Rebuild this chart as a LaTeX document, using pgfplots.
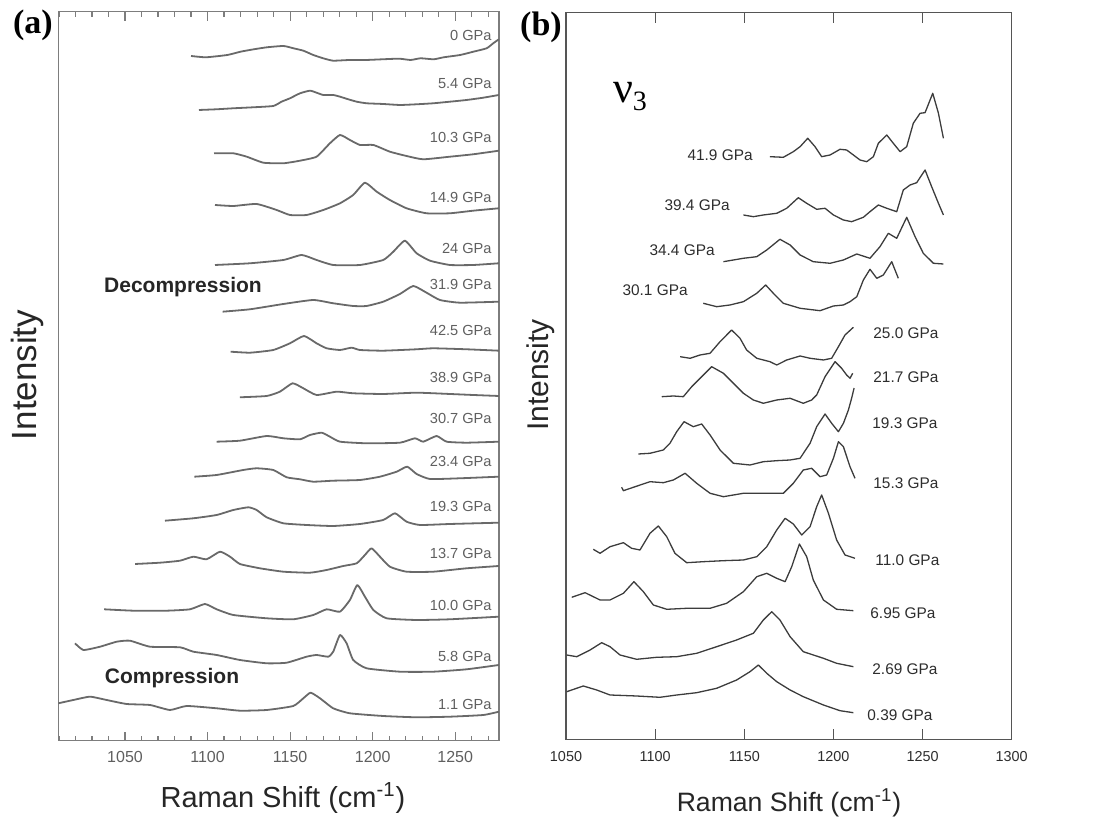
\documentclass[border=0pt]{standalone}
\usepackage{fontspec}
\setmainfont{Liberation Sans}
\newfontfamily\seriffont{Liberation Serif}
\usepackage{pgfplots}
\pgfplotsset{compat=1.18}
\definecolor{curveA}{RGB}{105,105,105}
\definecolor{curveB}{RGB}{60,60,60}
\definecolor{frameA}{RGB}{125,125,125}
\definecolor{frameB}{RGB}{85,85,85}
\definecolor{labA}{RGB}{95,95,95}
\definecolor{labB}{RGB}{45,45,45}
\begin{document}
\begin{tikzpicture}
\useasboundingbox (0,0) rectangle (553pt,411pt);
% ---------------- panel (a) ----------------
\begin{axis}[
  at={(29.15pt,40.65pt)}, anchor=south west,
  scale only axis, width=220.35pt, height=364.5pt,
  xmin=1009.6, xmax=1276.5, ymin=-740.7, ymax=-11.7,
  axis line style={draw=frameA, line width=0.8pt},
  ytick=\empty,
  xtick={1050,1100,1150,1200,1250},
  xticklabels={1050,1100,1150,1200,1250},
  minor xtick={1010,1020,...,1270},
  tick align=inside,
  major tick length=4.5pt, minor tick length=2.5pt,
  tick style={draw=frameA, line width=0.6pt},
  xticklabel style={font=\fontsize{8}{9}\selectfont, text=labA, anchor=center, yshift=-8.2pt},
  pa/.style={draw=curveA, line width=0.9pt, no markers, line join=round, smooth, tension=0.3},
]
\addplot[pa] coordinates {(1090,-56.0) (1099,-57.3) (1112,-55.0) (1120,-51.7) (1128,-49.3) (1136,-47.3) (1146,-46.0) (1152,-48.3) (1158,-50.7) (1164,-55.0) (1170,-58.3) (1176,-60.7) (1186,-60.0) (1196,-60.0) (1206,-59.3) (1216,-58.7) (1223,-60.0) (1229,-58.3) (1237,-59.3) (1243,-57.3) (1253,-55) (1261,-51.7) (1269,-48.3) (1273,-43.3) (1276.4,-39.3)};
\addplot[pa] coordinates {(1094.8,-110) (1105.5,-109.3) (1115.6,-108.3) (1127.7,-107.3) (1139.8,-106) (1144.8,-101.7) (1149.9,-98.3) (1156,-93.3) (1162,-90.7) (1166,-92.7) (1170.1,-95) (1176.1,-95) (1180.2,-96.7) (1185.2,-99.3) (1190.3,-101.7) (1196.3,-103.3) (1206.4,-104) (1216.5,-105) (1226.6,-104.3) (1236.7,-103.3) (1246.8,-101.7) (1256.9,-100) (1267,-97.7) (1276.4,-95)};
\addplot[pa] coordinates {(1103.9,-153.3) (1115.6,-153.3) (1123.7,-156.7) (1133.8,-162.7) (1145.9,-163.3) (1156,-160.7) (1166,-156.7) (1174.1,-143.3) (1180.2,-135) (1186.2,-140) (1192.3,-145) (1200.4,-145) (1210.4,-151.7) (1220.5,-156) (1230.6,-159.3) (1246.8,-156.7) (1260.9,-154.3) (1276.4,-150.7)};
\addplot[pa] coordinates {(1104.5,-205) (1115.6,-206) (1129.7,-204) (1141.8,-210) (1149.9,-215) (1160,-215) (1170.1,-210) (1180.2,-203.3) (1188.2,-195) (1195.3,-182.7) (1202.4,-191.7) (1210.4,-200) (1220.5,-208.3) (1232.6,-213.3) (1246.8,-213.3) (1260.9,-210.7) (1276.4,-208.3)};
\addplot[pa] coordinates {(1104.5,-265) (1125.7,-263.3) (1145.9,-260) (1157,-255) (1166,-260) (1176.1,-265) (1192.3,-265) (1206.4,-260) (1212.5,-251.7) (1219.5,-240.7) (1226.6,-253.3) (1234.7,-260.7) (1246.8,-265) (1260.9,-265) (1276.4,-263.3)};
\addplot[pa] coordinates {(1109.1,-311.7) (1125.7,-309.3) (1145.9,-304) (1164,-300) (1176.1,-303.3) (1188.2,-306) (1196.3,-306) (1206.4,-301.7) (1216.5,-294) (1224.6,-286) (1232.6,-292.7) (1240.7,-300) (1252.8,-302.7) (1276.4,-301.7)};
\addplot[pa] coordinates {(1114,-351.7) (1125.7,-352.7) (1139.8,-350) (1149.9,-343.3) (1158.4,-336) (1166,-343.3) (1172.1,-348.3) (1180.2,-350) (1187.2,-347.7) (1192.3,-350) (1206.4,-350.7) (1226.6,-349.3) (1236.7,-348.3) (1256.9,-349.3) (1276.4,-350.7)};
\addplot[pa] coordinates {(1119.6,-397.3) (1135.8,-396) (1143.8,-391.7) (1151.5,-383.3) (1158,-388.3) (1166,-395) (1178.2,-391.7) (1188.2,-393.3) (1206.4,-394) (1226.6,-392.7) (1246.8,-394) (1260.9,-395) (1276.4,-396)};
\addplot[pa] coordinates {(1105.5,-441.7) (1119.6,-440.7) (1135.8,-436) (1145.9,-438.3) (1156,-439.3) (1162,-435) (1169.1,-432.7) (1174.1,-436.7) (1180.2,-441.7) (1196.3,-443.3) (1216.5,-442.7) (1225.6,-438.3) (1230.6,-441.7) (1238.7,-436) (1244.8,-441.7) (1256.9,-442.7) (1276.4,-441.7)};
\addplot[pa] coordinates {(1092,-476.7) (1105.5,-475) (1121.6,-470) (1129.7,-468.3) (1139.8,-470) (1147.9,-477.3) (1156,-479.3) (1164,-481.7) (1176.1,-480.7) (1192.3,-480) (1204.4,-476.7) (1214.5,-471.7) (1220.9,-466.7) (1226.6,-474) (1234.7,-479) (1252.8,-478.3) (1276.4,-476.7)};
\addplot[pa] coordinates {(1074.2,-520.7) (1091.4,-518.3) (1105.5,-515) (1115.6,-510) (1124.7,-507.3) (1129.7,-510) (1135.8,-517.3) (1145.9,-523.3) (1160,-525) (1176.1,-526) (1192.3,-524) (1206.4,-520) (1213.5,-513.3) (1220.5,-521.7) (1228.6,-525) (1246.8,-524) (1276.4,-522.7)};
\addplot[pa] coordinates {(1056.1,-564) (1071.2,-562.7) (1083.3,-560.7) (1091.4,-556.7) (1099.4,-559.3) (1107.5,-551.7) (1113.6,-556.7) (1119.6,-564) (1131.7,-568.3) (1145.9,-571.7) (1162,-572.7) (1172.1,-570) (1182.2,-566) (1190.3,-563.3) (1195.3,-555) (1199.3,-548.3) (1204.4,-556.7) (1210.4,-566.7) (1220.5,-571.7) (1236.7,-571.7) (1256.9,-568.3) (1276.4,-566)};
\addplot[pa] coordinates {(1037.3,-609.3) (1055,-610.7) (1075.2,-610.7) (1089.4,-609.3) (1098.4,-604) (1105.5,-609.3) (1115.6,-615) (1135.8,-618.3) (1151.9,-619.3) (1164,-615) (1172.1,-609.3) (1180.2,-611.7) (1186.2,-600) (1190.7,-585) (1195.3,-596.7) (1200.4,-610) (1208.4,-618.3) (1226.6,-620) (1246.8,-619.3) (1276.4,-616.7)};
\addplot[pa] coordinates {(1019.7,-643.3) (1024.8,-650) (1034.9,-646.7) (1045,-641.7) (1053,-640.7) (1065.1,-646.7) (1083.3,-647.3) (1091.4,-651.7) (1105.5,-655) (1119.6,-660) (1135.8,-663.3) (1147.9,-662.7) (1160,-656.7) (1166,-655) (1173.1,-656.7) (1176.1,-651.7) (1180.2,-635) (1184.2,-643.3) (1188.2,-660) (1196.3,-668.3) (1216.5,-671.7) (1236.7,-671.7) (1256.9,-669.3) (1276.4,-665)};
\addplot[pa] coordinates {(1009.6,-703.3) (1018.7,-700) (1028.8,-696.7) (1038.9,-700) (1051,-704) (1065.1,-705) (1077.2,-710) (1087.3,-706) (1105.5,-708.3) (1119.6,-710.7) (1135.8,-710) (1151.9,-706) (1158,-698.3) (1162.4,-692.7) (1168.1,-698.3) (1176.1,-708.3) (1186.2,-713.3) (1206.4,-716) (1226.6,-717.3) (1246.8,-716.7) (1267,-715) (1276.4,-711.7)};
\end{axis}
% ---------------- panel (b) ----------------
\begin{axis}[
  at={(283pt,41.35pt)}, anchor=south west,
  scale only axis, width=222.85pt, height=363.3pt,
  xmin=1050, xmax=1300, ymin=-739.3, ymax=-12.7,
  axis line style={draw=frameB, line width=0.75pt},
  ytick=\empty,
  xtick={1050,1100,1150,1200,1250,1300},
  xticklabels={1050,1100,1150,1200,1250,1300},
  tick align=inside, major tick length=5pt,
  tick style={draw=frameB, line width=0.6pt},
  xticklabel style={font=\fontsize{7.2}{8.5}\selectfont, text=labB, anchor=center, yshift=-8.4pt},
  pb/.style={draw=curveB, line width=0.65pt, no markers, line join=round},
]
\addplot[pb] coordinates {(1164.4,-156.7) (1171.9,-157.3) (1177.5,-151.7) (1181.3,-146.7) (1185.6,-138.3) (1189.7,-146.7) (1193.4,-156.7) (1198.1,-155) (1203.7,-149.3) (1207.4,-150) (1211.2,-155) (1214.9,-160) (1218.7,-161.7) (1222.4,-156.7) (1225.2,-143.3) (1229.9,-135) (1233.6,-143.3) (1237.4,-151.7) (1241.1,-146.7) (1244.8,-123.3) (1248.6,-113.3) (1251.4,-112.7) (1255.7,-93.3) (1258.9,-113.3) (1261.7,-138.3)};
\addplot[pb] coordinates {(1149.5,-215) (1155.1,-216.7) (1160.7,-215) (1168.2,-213.3) (1173.8,-208.3) (1180.3,-197.7) (1185,-203.3) (1190.6,-209.3) (1195.3,-208.3) (1200,-215) (1205.6,-220) (1210.2,-221.7) (1216.8,-217.3) (1220.5,-211.7) (1225.2,-205) (1229.9,-208.3) (1235.5,-211.7) (1239.2,-190) (1243,-185) (1246.7,-182.7) (1251.4,-170) (1255.1,-186.7) (1258.9,-203.3) (1261.7,-215)};
\addplot[pb] coordinates {(1138.3,-261.7) (1149.5,-258.3) (1157,-256.7) (1162.6,-250) (1170,-239.3) (1175.7,-245) (1181.3,-255) (1188.7,-261.7) (1198.1,-263.3) (1205.6,-260) (1213.1,-254) (1220.5,-258.3) (1226.1,-246.7) (1230.8,-233.3) (1235.5,-238.3) (1241.1,-217.3) (1245.8,-236.7) (1250.4,-253.3) (1256.1,-263.3) (1261.7,-264)};
\addplot[pb] coordinates {(1127,-303.3) (1134.5,-306.7) (1142,-305) (1149.5,-301.7) (1157,-293.3) (1162,-285) (1166.3,-293.3) (1171.9,-303.3) (1181.3,-308.3) (1192.5,-310.7) (1200,-306) (1205.6,-305) (1209.3,-301.7) (1213.1,-296.7) (1216.8,-280) (1220.5,-269.3) (1224.3,-278.3) (1228,-275) (1232.7,-261.7) (1236.4,-278.3)};
\addplot[pb] coordinates {(1114,-356.7) (1119.6,-358.3) (1125.2,-355) (1130.8,-353.3) (1136.4,-341.7) (1142.9,-330) (1147.6,-338.3) (1151.3,-350) (1157,-358.3) (1164.4,-361.7) (1168.2,-365) (1173.8,-360) (1181.3,-356) (1186.9,-358.3) (1194.4,-360) (1199,-358.3) (1202.8,-346.7) (1206.5,-335) (1211.2,-327.3)};
\addplot[pb] coordinates {(1103.7,-396.7) (1110.2,-396) (1115.8,-396.7) (1120.5,-386.7) (1126.1,-376.7) (1131.7,-366.7) (1138.3,-373.3) (1143.9,-383.3) (1149.5,-393.3) (1155.1,-400) (1160.7,-403.3) (1168.2,-400) (1175.7,-398.3) (1183.1,-403.3) (1187.8,-400) (1190.6,-395) (1195.3,-376.7) (1200.9,-361.7) (1204.6,-368.3) (1207.4,-375) (1209.3,-378.3) (1210.8,-373.3)};
\addplot[pb] coordinates {(1090.6,-454) (1097.1,-453.3) (1104.6,-450) (1108.3,-443.3) (1112.1,-431.7) (1116.2,-421.7) (1121.4,-426.7) (1126.1,-424) (1130.8,-435) (1136.4,-450) (1143.9,-463.3) (1153.2,-465) (1160.7,-461.7) (1168.2,-460.7) (1175.7,-460) (1181.3,-458.3) (1186.9,-443.3) (1190.6,-426.7) (1195.3,-414) (1199,-423.3) (1202.8,-431.7) (1205.6,-423.3) (1208.4,-410) (1210.2,-398.3) (1211.6,-388)};
\addplot[pb] coordinates {(1081.2,-487.3) (1082.2,-490.7) (1087.8,-487.3) (1097.1,-481.7) (1104.6,-482.7) (1110.2,-480) (1116.8,-473.3) (1123.3,-483.3) (1130.8,-493.3) (1138.3,-496.7) (1149.5,-493.3) (1160.7,-493.3) (1171.9,-493.3) (1177.5,-483.3) (1183.1,-470) (1187.8,-468.3) (1192.5,-476.7) (1196.2,-475) (1200,-458.3) (1202.8,-441.7) (1205.6,-446.7) (1209.3,-466.7) (1212.1,-478.3)};
\addplot[pb] coordinates {(1065.3,-549.3) (1069.1,-553.3) (1074.7,-546.7) (1082.2,-542.7) (1086.8,-548.3) (1091.5,-550) (1097.1,-533.3) (1101.8,-526) (1106.5,-536.7) (1111.1,-553.3) (1117.7,-562.7) (1127,-561.7) (1138.3,-560.7) (1149.5,-560) (1157,-556.7) (1162.6,-546.7) (1168.2,-530) (1172.9,-518.3) (1177.5,-524) (1182.2,-535) (1186.9,-526.7) (1190.6,-506.7) (1193.4,-495) (1197.2,-513.3) (1201.8,-540) (1206.5,-555) (1212.1,-558.3)};
\addplot[pb] coordinates {(1053.2,-597.3) (1060.7,-592.7) (1069.1,-600) (1074.7,-600) (1082.2,-593.3) (1088.1,-581.7) (1093.4,-591.7) (1099,-605) (1106.5,-609.3) (1117.7,-608.3) (1130.8,-608.3) (1140.1,-603.3) (1149.5,-591.7) (1157,-576.7) (1162.6,-573.3) (1168.2,-578.3) (1172.9,-581.7) (1176.6,-566.7) (1180.9,-544) (1185,-556.7) (1188.7,-580) (1194.4,-600) (1201.8,-609.3) (1211.2,-610.7)};
\addplot[pb] coordinates {(1050.4,-655) (1056,-656.7) (1063.5,-650) (1070,-642.7) (1074.7,-646.7) (1080.3,-655) (1089.6,-659.3) (1100.9,-657.3) (1112.1,-656.7) (1123.3,-653.3) (1134.5,-646.7) (1145.7,-640) (1155.1,-633.3) (1160.7,-620) (1165.4,-611.7) (1170,-620) (1175.7,-636.7) (1183.1,-651.7) (1194.4,-658.3) (1201.8,-663.3) (1211.2,-666.7)};
\addplot[pb] coordinates {(1050.4,-691.7) (1059.7,-686) (1067.2,-690) (1074.7,-695) (1089.6,-696) (1102.7,-697.3) (1112.1,-695) (1123.3,-692.7) (1134.5,-688.3) (1145.7,-680) (1153.2,-671.7) (1157.9,-665) (1162.6,-673.3) (1168.2,-681.7) (1175.7,-690) (1183.1,-696.7) (1194.4,-705) (1203.7,-710.7) (1211.2,-712.7)};
\end{axis}
% ---------------- text (pixel coordinates, origin top-left) ----------------
\begin{scope}[shift={(0pt,411pt)}, x=0.5pt, y=-0.5pt]
\node[font=\seriffont\bfseries\fontsize{17}{19}\selectfont, inner sep=0] at (33,25) {(a)};
\node[font=\seriffont\bfseries\fontsize{17}{19}\selectfont, inner sep=0] at (541,27) {(b)};
\node[inner sep=0] at (630,97) {\seriffont\fontsize{22}{24}\selectfont ν\raisebox{-4pt}{\fontsize{14}{16}\selectfont 3}};
\node[font=\bfseries\fontsize{10.5}{12}\selectfont, text=black!85, inner sep=0] at (183,287) {Decompression};
\node[font=\bfseries\fontsize{10.5}{12}\selectfont, text=black!85, inner sep=0] at (172,678) {Compression};
% axis titles
\node[font=\fontsize{14.5}{16}\selectfont, text=black!85, inner sep=0] at (283,798) {Raman Shift (cm\textsuperscript{-1})};
\node[font=\fontsize{13.3}{15}\selectfont, text=black!85, inner sep=0] at (789,803) {Raman Shift (cm\textsuperscript{-1})};
\node[font=\fontsize{17.5}{19}\selectfont, text=black!85, rotate=90, inner sep=0] at (27,375) {Intensity};
\node[font=\fontsize{15}{17}\selectfont, text=black!85, rotate=90, inner sep=0] at (541,375) {Intensity};
% panel (a) spectrum labels
\begin{scope}[every node/.style={anchor=east, inner sep=0, text=labA, font=\fontsize{7.3}{8.5}\selectfont}]
\node at (492,35) {0 GPa};
\node at (492,83) {5.4 GPa};
\node at (492,137) {10.3 GPa};
\node at (492,197) {14.9 GPa};
\node at (492,248) {24 GPa};
\node at (492,284) {31.9 GPa};
\node at (492,330) {42.5 GPa};
\node at (492,377) {38.9 GPa};
\node at (492,418) {30.7 GPa};
\node at (492,461) {23.4 GPa};
\node at (492,506) {19.3 GPa};
\node at (492,553) {13.7 GPa};
\node at (492,605) {10.0 GPa};
\node at (492,656) {5.8 GPa};
\node at (492,704) {1.1 GPa};
\end{scope}
% panel (b) spectrum labels
\begin{scope}[every node/.style={inner sep=0, text=labB, font=\fontsize{7.7}{9}\selectfont}]
\node[anchor=east] at (753,155) {41.9 GPa};
\node[anchor=east] at (730,205) {39.4 GPa};
\node[anchor=east] at (715,250) {34.4 GPa};
\node[anchor=east] at (688,290) {30.1 GPa};
\node[anchor=west] at (873,333) {25.0 GPa};
\node[anchor=west] at (873,377) {21.7 GPa};
\node[anchor=west] at (872,423) {19.3 GPa};
\node[anchor=west] at (873,483) {15.3 GPa};
\node[anchor=west] at (875,560) {11.0 GPa};
\node[anchor=west] at (870,613) {6.95 GPa};
\node[anchor=west] at (872,669) {2.69 GPa};
\node[anchor=west] at (867,715) {0.39 GPa};
\end{scope}
\end{scope}
\end{tikzpicture}
\end{document}
